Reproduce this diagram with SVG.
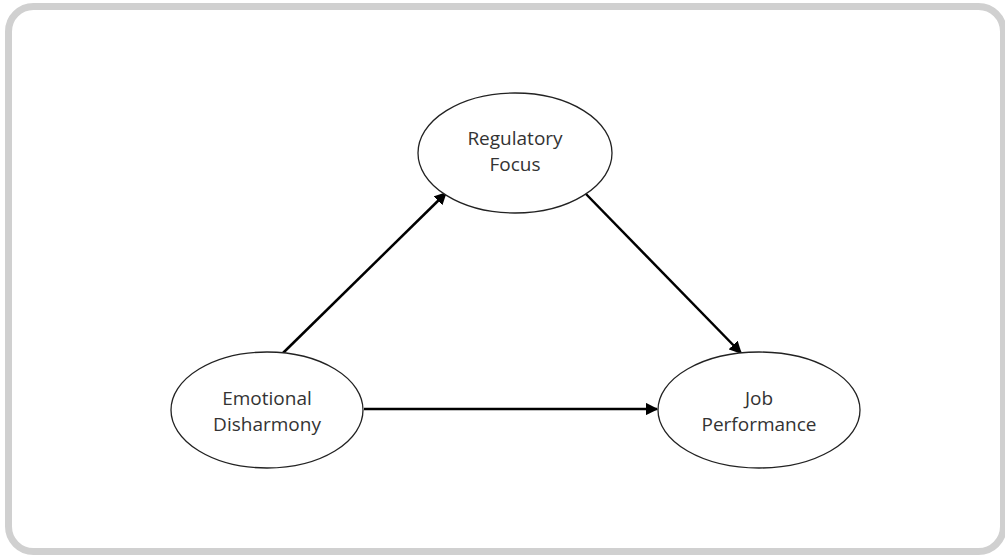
<svg xmlns="http://www.w3.org/2000/svg" width="1005" height="555" viewBox="0 0 1005 555">
<defs>
<style>
.node ellipse{fill:#fff;stroke:#222;stroke-width:1.3}
.node text{font-family:"Open Sans","Noto Sans",sans-serif;font-size:19px;fill:#333;text-anchor:middle}
.conn line{stroke:#000;stroke-width:2.5;marker-end:url(#ah)}
</style>
<marker id="ah" viewBox="0 0 10 10" refX="9" refY="5" markerWidth="5" markerHeight="5" orient="auto" markerUnits="strokeWidth">
<path d="M0,0 L10,5 L0,10 Z" fill="#000"/>
</marker>
</defs>
<rect x="8.5" y="6.5" width="995" height="545" rx="25" fill="#fff" stroke="#d0d0d0" stroke-width="7"/>
<g id="connectors" class="conn">
<line x1="283" y1="353" x2="446" y2="193"/>
<line x1="585" y1="193" x2="741" y2="353"/>
<line x1="364" y1="409" x2="657" y2="409"/>
</g>
<g id="regulatory-focus" class="node">
<ellipse cx="515" cy="153" rx="97" ry="60"/>
<text x="515" y="145">Regulatory</text>
<text x="515" y="171">Focus</text>
</g>
<g id="emotional-disharmony" class="node">
<ellipse cx="267" cy="410" rx="96" ry="58"/>
<text x="267" y="405">Emotional</text>
<text x="267" y="431">Disharmony</text>
</g>
<g id="job-performance" class="node">
<ellipse cx="759" cy="410" rx="101" ry="58"/>
<text x="759" y="405">Job</text>
<text x="759" y="431">Performance</text>
</g>
</svg>
